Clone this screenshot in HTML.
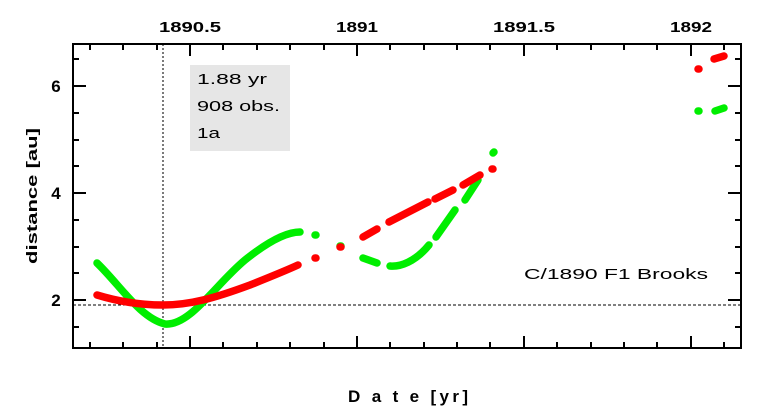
<!DOCTYPE html>
<html><head><style>
html,body{margin:0;padding:0;background:#fff;}
svg{display:block;}
text{font-family:"Liberation Sans",sans-serif;}
</style></head><body>
<svg width="767" height="414" viewBox="0 0 767 414" xmlns="http://www.w3.org/2000/svg">
<rect x="190" y="65" width="100" height="86" fill="#e6e6e6"/>
<g font-size="15" fill="#000">
<text x="197" y="84" textLength="70" lengthAdjust="spacingAndGlyphs">1.88 yr</text>
<text x="197" y="111" textLength="83" lengthAdjust="spacingAndGlyphs">908 obs.</text>
<text x="197" y="138" textLength="23" lengthAdjust="spacingAndGlyphs">1a</text>
<text x="524" y="279" textLength="184" lengthAdjust="spacingAndGlyphs">C/1890 F1 Brooks</text>
</g>
<line x1="163" y1="44" x2="163" y2="348" stroke="#333" stroke-width="1.3" stroke-dasharray="2,2"/>
<line x1="73" y1="305" x2="741" y2="305" stroke="#000" stroke-width="1" stroke-dasharray="3,2"/>
<g fill="none" stroke-linecap="round" stroke-linejoin="round" stroke-width="7.5">
<g stroke="#00ee00">
<path d="M97,263 C120,285 140,318 165,324 C190,326 215,285 245,260 C265,244 285,232 300,232"/>
<path d="M315,235 L316,235"/>
<path d="M340,246 L341,246"/>
<path d="M363,258 L377,263"/>
<path d="M390,266 C400,267 415,262 429,245"/>
<path d="M436,237 L455,210"/>
<path d="M465,200 L478,180"/>
<path d="M493,153 L494,152"/>
<path d="M698,111 L699,111"/>
<path d="M715,111 L724,108"/>
</g>
<g stroke="#ff0000">
<path d="M97,295 C120,302 140,305 163,305 C190,305 215,298 250,285 C270,277 285,271 298,265"/>
<path d="M315,258 L316,258"/>
<path d="M340,247 L341,247"/>
<path d="M363,237 L377,229"/>
<path d="M389,222 L428,202"/>
<path d="M435,199 L453,190"/>
<path d="M463,185 L480,175"/>
<path d="M492,169 L493,169"/>
<path d="M698,69 L699,69"/>
<path d="M714,59 L724,56"/>
</g>
</g>
<rect x="73" y="44" width="668" height="304" fill="none" stroke="#000" stroke-width="2"/>
<g stroke="#000" stroke-width="2">
<path d="M90,348v-6M90,44v6 M123,348v-6M123,44v6 M157,348v-6M157,44v6 M190,348v-12M190,44v12 M223,348v-6M223,44v6 M257,348v-6M257,44v6 M290,348v-6M290,44v6 M324,348v-6M324,44v6 M357,348v-12M357,44v12 M390,348v-6M390,44v6 M424,348v-6M424,44v6 M457,348v-6M457,44v6 M490,348v-6M490,44v6 M524,348v-12M524,44v12 M557,348v-6M557,44v6 M591,348v-6M591,44v6 M624,348v-6M624,44v6 M657,348v-6M657,44v6 M691,348v-12M691,44v12 M724,348v-6M724,44v6"/>
<path d="M73,327h6M741,327h-6 M73,300h13M741,300h-13 M73,273h6M741,273h-6 M73,247h6M741,247h-6 M73,220h6M741,220h-6 M73,193h13M741,193h-13 M73,166h6M741,166h-6 M73,140h6M741,140h-6 M73,113h6M741,113h-6 M73,86h13M741,86h-13 M73,59h6M741,59h-6"/>
</g>
<g font-size="15" font-weight="bold" fill="#000" text-anchor="middle">
<text x="190" y="32" textLength="62" lengthAdjust="spacingAndGlyphs">1890.5</text>
<text x="357" y="32" textLength="42" lengthAdjust="spacingAndGlyphs">1891</text>
<text x="524" y="32" textLength="62" lengthAdjust="spacingAndGlyphs">1891.5</text>
<text x="691" y="32" textLength="42" lengthAdjust="spacingAndGlyphs">1892</text>
<text x="56" y="92" font-size="17">6</text>
<text x="56" y="199" font-size="17">4</text>
<text x="56" y="306" font-size="17">2</text>
<text x="408" y="402" font-size="17" textLength="120" lengthAdjust="spacing">D a t e [yr]</text>
<text transform="translate(37,196) rotate(-90)" textLength="136" lengthAdjust="spacingAndGlyphs">distance [au]</text>
</g>
</svg>
</body></html>
